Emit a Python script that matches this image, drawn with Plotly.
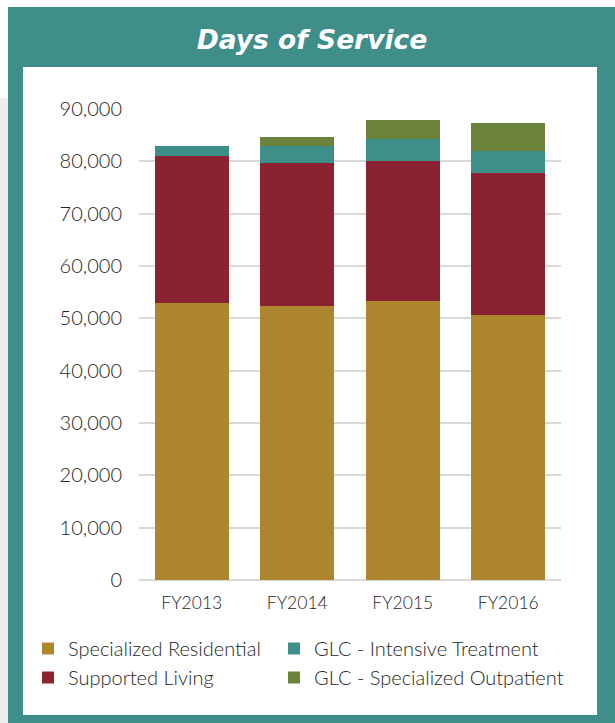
import plotly.graph_objects as go

years = ["FY2013", "FY2014", "FY2015", "FY2016"]
specialized_residential = [52980, 52410, 53310, 50630]
supported_living = [28000, 27270, 26750, 27130]
glc_intensive = [1900, 3200, 4140, 4210]
glc_outpatient = [0, 1780, 3630, 5300]
y_ticks = [0, 10000, 20000, 30000, 40000, 50000, 60000, 70000, 80000, 90000]
y_tick_labels = ["0", "10,000", "20,000", "30,000", "40,000", "50,000",
                 "60,000", "70,000", "80,000", "90,000"]

W, H = 615, 723
L, R, T, B = 139, 561, 109, 580

def px(x):
    return (x - L) / (R - L)

def py(y):
    return (B - y) / (B - T)

series = [
    ("Specialized Residential", specialized_residential, "#AE862E", "legend"),
    ("Supported Living", supported_living, "#8B2232", "legend"),
    ("GLC - Intensive Treatment", glc_intensive, "#3E8E8A", "legend2"),
    ("GLC - Specialized Outpatient", glc_outpatient, "#6B823A", "legend2"),
]

fig = go.Figure()
for name, vals, color, leg in series:
    fig.add_trace(go.Bar(
        x=years, y=vals, name=name, marker=dict(color=color, line=dict(width=0)),
        legend=leg,
    ))

shapes = [
    dict(type="rect", xref="paper", yref="paper", x0=px(0), x1=px(8), y0=py(98), y1=py(723),
         fillcolor="#ECECEC", line=dict(width=0), layer="below"),
    dict(type="rect", xref="paper", yref="paper", x0=px(8), x1=px(615), y0=py(7), y1=py(723),
         fillcolor="#3F8E8A", line=dict(width=0), layer="below"),
    dict(type="rect", xref="paper", yref="paper", x0=px(23), x1=px(597), y0=py(67), y1=py(715),
         fillcolor="#FFFFFF", line=dict(width=0), layer="below"),
]

text_color = "#262626"
legend_common = dict(orientation="v", yanchor="top", traceorder="normal",
                     font=dict(size=20, color=text_color), bgcolor="rgba(0,0,0,0)",
                     itemclick=False, itemdoubleclick=False)

fig.update_layout(
    width=W, height=H,
    margin=dict(l=L, r=W - R, t=T, b=H - B, pad=0),
    barmode="stack",
    bargap=0.3,
    paper_bgcolor="#FFFFFF",
    plot_bgcolor="rgba(0,0,0,0)",
    shapes=shapes,
    font=dict(family="Lato", size=18, color=text_color, weight=300),
    title=dict(text="Days of Service", x=px(312), xref="paper", xanchor="center",
               y=1 - 40 / H, yref="container", yanchor="middle",
               font=dict(family="DejaVu Sans", size=26.5, color="#FFFFFF", weight="bold", style="italic")),
    xaxis=dict(showgrid=False, showline=False, ticks="", tickfont=dict(size=17.5),
               ticklabelstandoff=10, range=[-0.5, 3.5], fixedrange=True),
    yaxis=dict(range=[0, 90000], tickvals=y_ticks, ticktext=y_tick_labels,
               showgrid=True, gridcolor="#D9D9D9", gridwidth=2,
               zeroline=True, zerolinecolor="#D9D9D9", zerolinewidth=2,
               ticks="", ticklabelstandoff=16, tickfont=dict(size=20), fixedrange=True),
    legend=dict(x=px(28), xanchor="left", y=py(629), **legend_common),
    legend2=dict(x=px(274), xanchor="left", y=py(629), **legend_common),
    showlegend=True,
)

fig.write_html("out.html", post_script="document.body.style.margin='0';",
               config={"displayModeBar": False})
